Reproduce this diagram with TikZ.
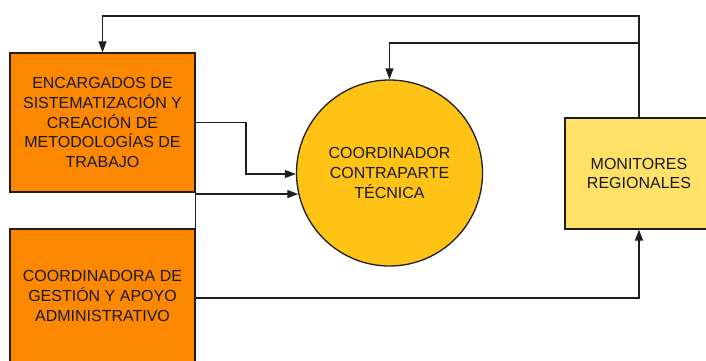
\documentclass[tikz,border=0pt]{standalone}
\usepackage{fontspec}
\setmainfont{Liberation Sans}
\usetikzlibrary{arrows.meta}
\definecolor{orangebox}{HTML}{FB8800}
\definecolor{circfill}{HTML}{FEC314}
\definecolor{monfill}{HTML}{FFE168}
\definecolor{edge}{HTML}{1E1E1E}
\begin{document}
\begin{tikzpicture}[x=1pt,y=-1pt,
  box/.style={draw=edge, line width=1.3pt, align=center, inner sep=2pt,
    font=\fontsize{16}{19.8}\selectfont, text=black!90},
  arr/.style={draw=edge, line width=1.3pt, -{Triangle[length=11pt,width=8pt]}},
  ln/.style={draw=edge, line width=1.3pt}]
\useasboundingbox (0,0) rectangle (706,361);
\clip (0,0) rectangle (706,361);
\node[box, fill=orangebox, minimum width=185pt, minimum height=139pt] (enc) at (102.5,122.5)
  {ENCARGADOS DE\\SISTEMATIZACIÓN Y\\CREACIÓN DE\\METODOLOGÍAS DE\\TRABAJO};
\node[box, fill=orangebox, minimum width=185pt, minimum height=134pt] (coord) at (102.5,296)
  {COORDINADORA DE\\GESTIÓN Y APOYO\\ADMINISTRATIVO};
\node[box, circle, fill=circfill, minimum size=186pt] (circ) at (389.5,173)
  {COORDINADOR\\CONTRAPARTE\\TÉCNICA};
\node[box, fill=monfill, minimum width=148pt, minimum height=111pt] (mon) at (639,173.5)
  {MONITORES\\REGIONALES};
\coordinate (j) at (639,43);
\coordinate (b) at (195,298);
\draw[arr] (enc.east) -| (246,174) -- (circ.west |- 246,174);
\draw[arr] (coord.north east) |- (circ.193);
\draw[arr] (mon.north) |- (enc.north |- 0,16) -- (enc.north);
\draw[arr] (j) -| (circ.north);
\draw[arr] (b) -| (mon.south);
\end{tikzpicture}
\end{document}
